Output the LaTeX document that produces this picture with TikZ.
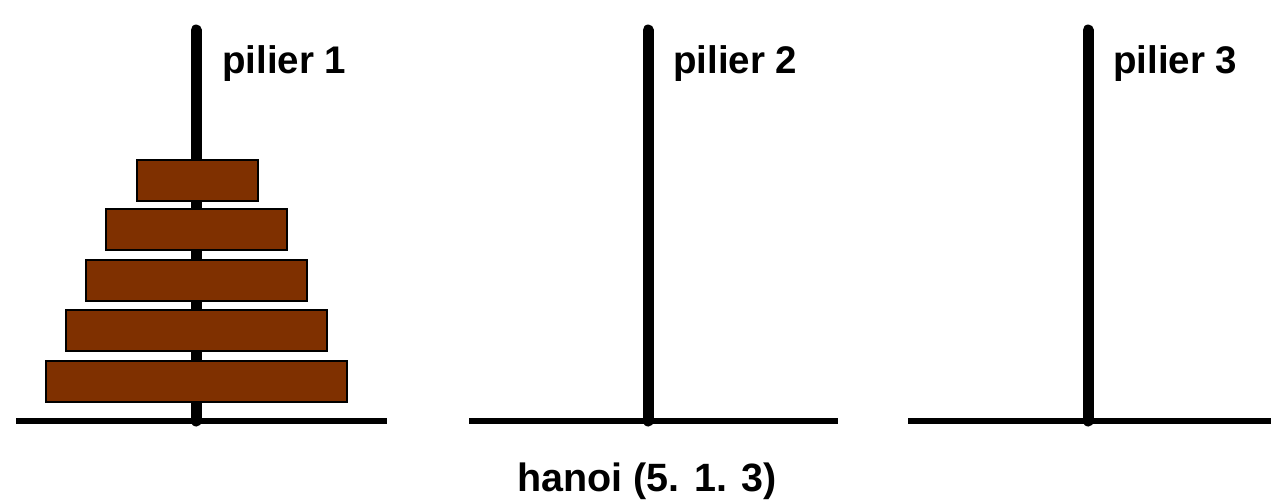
\documentclass[tikz,border=0pt]{standalone}
\usepackage{fontspec}
\setmainfont{Liberation Sans}
\definecolor{disk}{HTML}{7F3000}
\begin{document}
\begin{tikzpicture}[x=1pt,y=-1pt,
  pole/.style={line width=11pt,line cap=round},
  baseline/.style={line width=6pt},
  diskbox/.style={draw=black,line width=1.6pt,fill=disk},
  lab/.style={font=\bfseries\fontsize{38.5}{40}\selectfont,anchor=base west,inner sep=0pt}]
\useasboundingbox (0,0) rectangle (1271,501);
% bases
\coordinate (b1l) at (16,421); \coordinate (b1r) at (387,421);
\coordinate (b2l) at (469,421); \coordinate (b2r) at (838,421);
\coordinate (b3l) at (908,421); \coordinate (b3r) at (1271,421);
\draw[baseline] (b1l) -- (b1r);
\draw[baseline] (b2l) -- (b2r);
\draw[baseline] (b3l) -- (b3r);
% poles
\coordinate (p1t) at (196,30); \coordinate (p1b) at (196,421);
\coordinate (p2t) at (648,30); \coordinate (p2b) at (648,421);
\coordinate (p3t) at (1088,30); \coordinate (p3b) at (1088,421);
\draw[pole] (p1t) -- (p1b);
\draw[pole] (p2t) -- (p2b);
\draw[pole] (p3t) -- (p3b);
% disks
\draw[diskbox] (137,160) rectangle (258,201);
\draw[diskbox] (106,209) rectangle (287,250);
\draw[diskbox] (86,260) rectangle (307,301);
\draw[diskbox] (66,310) rectangle (327,351);
\draw[diskbox] (46,361) rectangle (347,402);
% labels
\node[lab] (l1) at (222,73) {pilier 1};
\node[lab] (l2) at (673,73) {pilier 2};
\node[lab] (l3) at (1113,73) {pilier 3};
\node[font=\bfseries\fontsize{39.5}{42}\selectfont,anchor=base,inner sep=0pt] (t) at (647,491) {hanoi (5. 1. 3)};
\end{tikzpicture}
\end{document}
